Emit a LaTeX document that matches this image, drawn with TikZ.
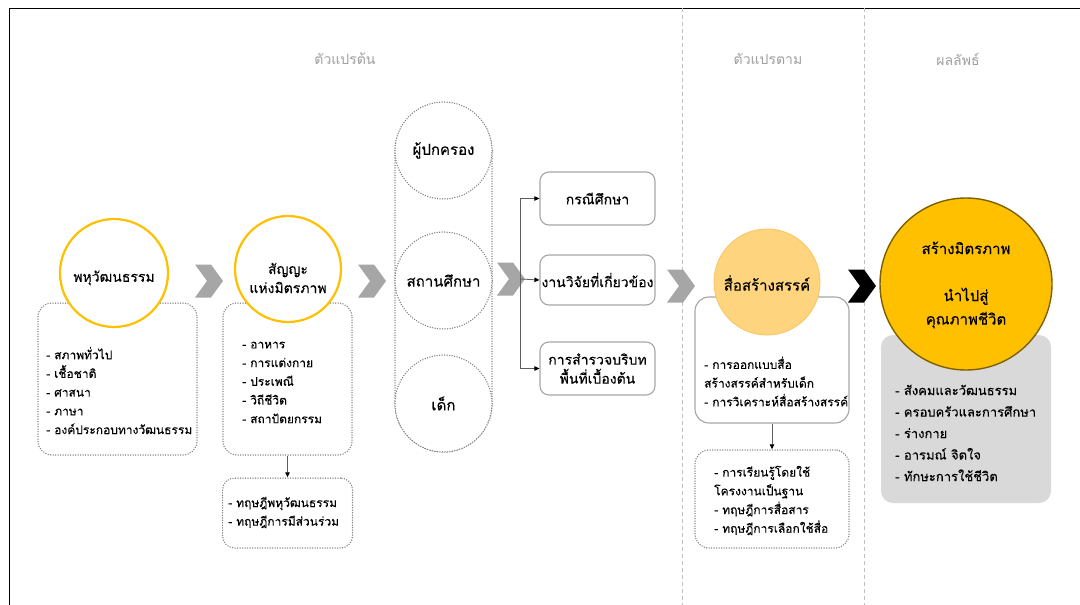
\documentclass[tikz,border=0pt]{standalone}
\usepackage{fontspec}
\setmainfont{Loma}[Script=Thai,FakeBold=0.2]
\newfontfamily\thinthai{Loma}[Script=Thai]
\usetikzlibrary{arrows.meta}
\definecolor{gold}{HTML}{FFC000}
\definecolor{goldedge}{HTML}{7F6000}
\definecolor{peach}{HTML}{FFD47E}
\definecolor{peachedge}{HTML}{F9C45C}
\definecolor{chevgray}{HTML}{A6A6A6}
\definecolor{dotgray}{HTML}{808080}
\definecolor{boxgray}{HTML}{A6A6A6}
\definecolor{sepgray}{HTML}{BFBFBF}
\definecolor{hdrgray}{HTML}{A0A0A0}
\definecolor{panel}{HTML}{D9D9D9}
\definecolor{linkgray}{HTML}{5E5E5E}
\tikzset{
  hdr/.style={text=hdrgray, font=\thinthai\fontsize{14}{17}\selectfont, inner sep=0},
  lst/.style={font=\fontsize{12}{18.7}\selectfont, align=left, anchor=west, inner sep=0},
  ttl/.style={font=\fontsize{14}{19}\selectfont, align=center, inner sep=0},
  ring/.style={circle, draw=gold, line width=2.2pt, fill=white, inner sep=0},
  dotted line/.style={draw=dotgray, line width=1.5pt, line cap=round, dash pattern=on 0pt off 2.5pt},
  dotring/.style={circle, dotted line, fill=white, inner sep=0, minimum size=97pt},
  dotbox/.style={dotted line, rounded corners=14pt, inner sep=0},
  solidbox/.style={draw=boxgray, line width=1.1pt, rounded corners=9pt, fill=white, inner sep=0},
  link/.style={draw=linkgray, line width=0.8pt, -{Triangle[length=5pt,width=4.5pt,fill=black,color=black]}},
  chevron/.pic={\fill (0,-16.5) -- (16,-16.5) -- (28,0) -- (16,16.5) -- (0,16.5) -- (12,0) -- cycle;}
}
\begin{document}
\begin{tikzpicture}[x=1pt,y=-1pt]
\useasboundingbox (0,0) rectangle (1080,605);
\fill[white] (0,0) rectangle (1080,605);

% outer frame (top and left edges)
\draw[black, line width=0.9pt] (9,605) -- (9,8) -- (1080,8);

% column separators
\draw[sepgray, line width=0.8pt, dash pattern=on 4pt off 3pt] (682,8) -- (682,605);
\draw[sepgray, line width=0.8pt, dash pattern=on 4pt off 3pt] (864,8) -- (864,605);

% column headings
\node[hdr] (hIndep) at (345,59) {ตัวแปรต้น};
\node[hdr] (hDep) at (768,59) {ตัวแปรตาม};
\node[hdr] (hOut) at (958,59) {ผลลัพธ์};

% chevrons between stages
\pic[chevgray] at (195,281) {chevron};
\pic[chevgray] at (358,281) {chevron};
\pic[chevgray] at (497,279) {chevron};
\pic[chevgray] at (667,286) {chevron};
\pic[black] at (848,286) {chevron};

% stage 1: multiculturalism
\node[dotbox, minimum width=159pt, minimum height=152pt] (box1) at (117.5,379) {};
\node[ring, minimum size=108pt] (c1) at (114,273) {};
\node[ttl] (t1) at (114,278) {พหุวัฒนธรรม};
\node[lst] (l1) at (46,390.5) {- สภาพทั่วไป\\- เชื้อชาติ\\- ศาสนา\\- ภาษา\\- องค์ประกอบทางวัฒนธรรม};

% stage 2: symbols of friendship
\node[dotbox, minimum width=129pt, minimum height=152pt] (box2) at (287.5,379) {};
\node[ring, minimum size=106pt] (c2) at (288,269) {};
\node[ttl] (t2) at (288,278) {สัญญะ\\แห่งมิตรภาพ};
\node[lst] (l2) at (242,382.5) {- อาหาร\\- การแต่งกาย\\- ประเพณี\\- วิถีชีวิต\\- สถาปัตยกรรม};
\node[dotbox, minimum width=130pt, minimum height=70pt, rounded corners=12pt] (box3) at (287.5,513) {};
\node[lst] (l3) at (228,512.5) {- ทฤษฎีพหุวัฒนธรรม\\- ทฤษฎีการมีส่วนร่วม};
\draw[link] (box2.south) -- (box3.north);

% stage 3: stakeholders
\node[dotbox, rounded corners=48.5pt, minimum width=97pt, minimum height=349pt] (group) at (443.5,277.5) {};
\node[dotring] (p1) at (443.5,150.5) {};
\node[ttl, font=\fontsize{15}{19}\selectfont] at (p1) {ผู้ปกครอง};
\node[dotring] (p2) at (443.5,280.5) {};
\node[ttl, font=\fontsize{15}{19}\selectfont] at (p2) {สถานศึกษา};
\node[dotring] (p3) at (443.5,403.5) {};
\node[ttl, font=\fontsize{15}{19}\selectfont] at (p3) {เด็ก};

% stage 4: methods
\node[solidbox, minimum width=115pt, minimum height=53pt] (m1) at (597.5,198.5) {};
\node[ttl] at (m1) {กรณีศึกษา};
\node[solidbox, minimum width=115pt, minimum height=50pt] (m2) at (597.5,280) {};
\node[ttl] at (m2) {งานวิจัยที่เกี่ยวข้อง};
\node[solidbox, minimum width=115pt, minimum height=53pt] (m3) at (597.5,368.5) {};
\node[ttl] at (m3) {การสำรวจบริบท\\พื้นที่เบื้องต้น};
\coordinate (fork) at (520,279);
\draw[link] (fork) |- (m1.west);
\draw[link] (fork) -- (m2.west);
\draw[link] (fork) |- (m3.west);

% dependent variable: creative media
\node[solidbox, minimum width=154pt, minimum height=126pt, rounded corners=14pt] (box5) at (772,360) {};
\node[circle, fill=peach, draw=peachedge, line width=0.8pt, minimum size=106pt, inner sep=0] (c5) at (767,282) {};
\node[ttl, font=\fontsize{15}{19}\selectfont] (t5) at (767,283) {สื่อสร้างสรรค์};
\node[lst] (l5) at (704,381.5) {- การออกแบบสื่อ\\สร้างสรรค์สำหรับเด็ก\\- การวิเคราะห์สื่อสร้างสรรค์};
\node[dotbox, minimum width=154pt, minimum height=98pt] (box6) at (772,499) {};
\node[lst] (l6) at (714,500.5) {- การเรียนรู้โดยใช้\\โครงงานเป็นฐาน\\- ทฤษฎีการสื่อสาร\\- ทฤษฎีการเลือกใช้สื่อ};
\draw[link] (box5.south) -- (box6.north);

% outcome
\node[fill=panel, rounded corners=12pt, minimum width=170pt, minimum height=168pt, inner sep=0] (box7) at (966,419) {};
\node[circle, fill=gold, draw=goldedge, line width=1.4pt, minimum size=172pt, inner sep=0] (c7) at (966,284) {};
\node[ttl, font=\fontsize{15}{23.5}\selectfont] (t7) at (966,285) {สร้างมิตรภาพ\\ \\นำไปสู่\\คุณภาพชีวิต};
\node[lst, font=\fontsize{13}{21.5}\selectfont] (l7) at (895,433) {- สังคมและวัฒนธรรม\\- ครอบครัวและการศึกษา\\- ร่างกาย\\- อารมณ์ จิตใจ\\- ทักษะการใช้ชีวิต};
\end{tikzpicture}
\end{document}
